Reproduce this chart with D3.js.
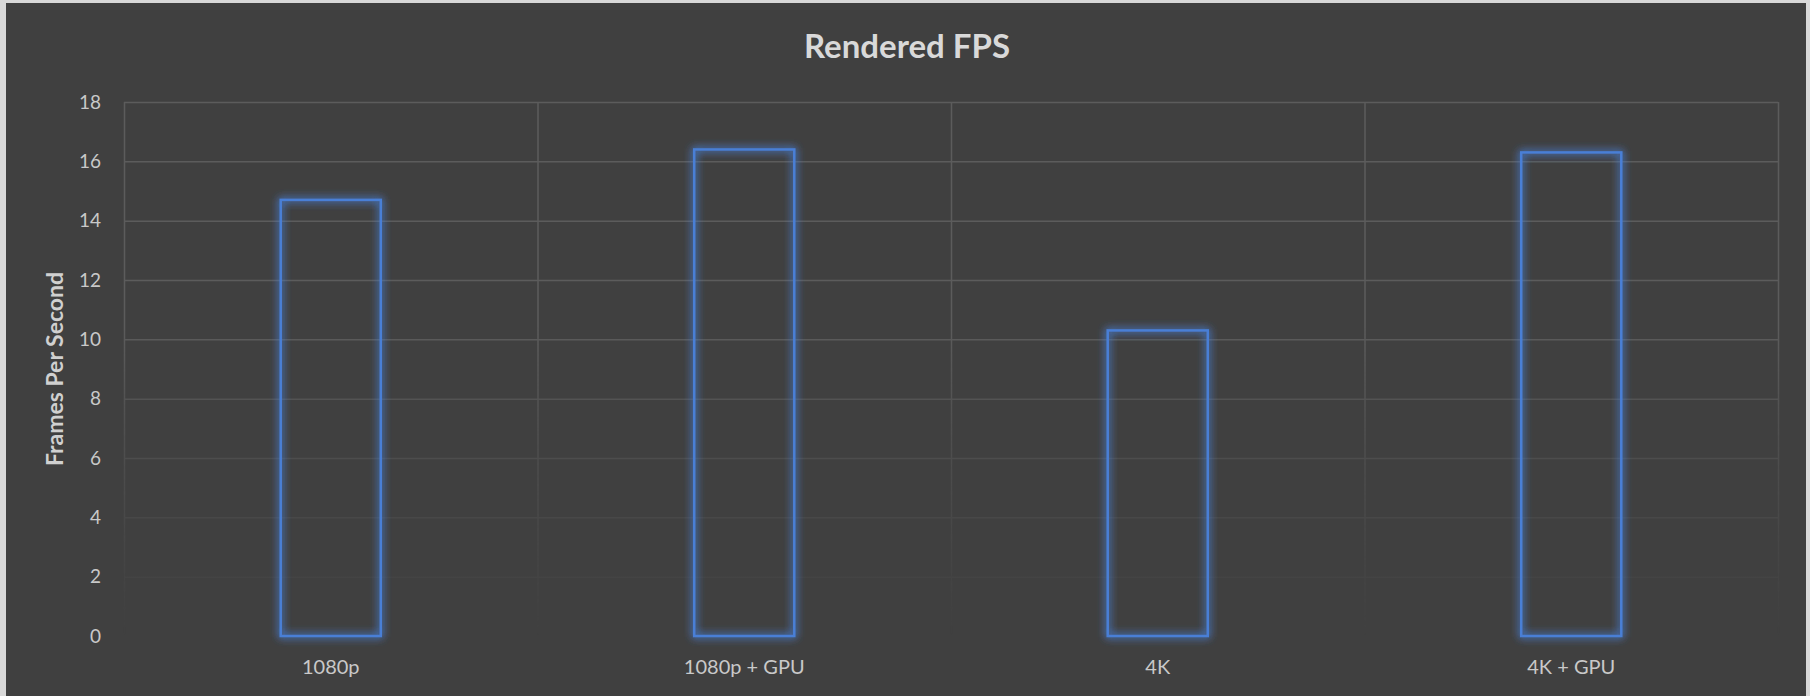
<!DOCTYPE html>
<html>
<head>
<meta charset="utf-8">
<script src="https://cdn.jsdelivr.net/npm/d3@7"></script>
<style>
  html, body { margin: 0; padding: 0; background: #d9d9d9; }
  svg { display: block; }
</style>
</head>
<body>
<script>
// Chart data
const categories = ['1080p', '1080p + GPU', '4K', '4K + GPU'];
const fps = [14.7, 16.4, 10.3, 16.3];
const yTicks = [0, 2, 4, 6, 8, 10, 12, 14, 16, 18];

const fullWidth = 1810;
const fullHeight = 696;
const margin = { top: 102, right: 32, bottom: 60, left: 124 };
const width = fullWidth - margin.left - margin.right;
const height = 636 - margin.top;

const svg = d3.select('body')
  .append('svg')
  .attr('width', fullWidth)
  .attr('height', fullHeight);

// Chart background
svg.append('rect')
  .attr('x', 6)
  .attr('y', 3)
  .attr('width', 1800)
  .attr('height', fullHeight - 3)
  .attr('fill', '#404040');

const defs = svg.append('defs');

// glow around bar outlines
const glow = defs.append('filter')
  .attr('id', 'glow')
  .attr('x', '-25%').attr('y', '-10%')
  .attr('width', '150%').attr('height', '120%');
glow.append('feGaussianBlur')
  .attr('in', 'SourceGraphic')
  .attr('stdDeviation', 4.5)
  .attr('result', 'blur');
glow.append('feComponentTransfer')
  .attr('in', 'blur')
  .attr('result', 'soft')
  .append('feFuncA')
  .attr('type', 'linear')
  .attr('slope', 1.8);
const merge = glow.append('feMerge');
merge.append('feMergeNode').attr('in', 'soft');
merge.append('feMergeNode').attr('in', 'SourceGraphic');

// gridlines fade toward the bottom
const grad = defs.append('linearGradient')
  .attr('id', 'fade')
  .attr('gradientUnits', 'userSpaceOnUse')
  .attr('x1', 0).attr('x2', 0)
  .attr('y1', 0).attr('y2', height);
grad.append('stop').attr('offset', 0.42).attr('stop-color', '#fff').attr('stop-opacity', 1);
grad.append('stop').attr('offset', 0.62).attr('stop-color', '#fff').attr('stop-opacity', 0.55);
grad.append('stop').attr('offset', 0.86).attr('stop-color', '#fff').attr('stop-opacity', 0.18);
grad.append('stop').attr('offset', 1).attr('stop-color', '#fff').attr('stop-opacity', 0);

defs.append('mask')
  .attr('id', 'grid-mask')
  .attr('maskUnits', 'userSpaceOnUse')
  .attr('x', -10).attr('y', -10)
  .attr('width', width + 20).attr('height', height + 20)
  .append('rect')
  .attr('x', -10).attr('y', -10)
  .attr('width', width + 20).attr('height', height + 20)
  .attr('fill', 'url(#fade)');

const x = d3.scaleBand()
  .domain(categories)
  .range([0, width])
  .padding(0);

const y = d3.scaleLinear()
  .domain([0, 18])
  .range([height, 0]);

const g = svg.append('g')
  .attr('transform', `translate(${margin.left}, ${margin.top})`);

// Title
svg.append('text')
  .attr('x', 907)
  .attr('y', 58)
  .attr('text-anchor', 'middle')
  .style('font-family', 'Lato, "Open Sans", sans-serif')
  .style('font-weight', 'bold')
  .style('font-size', '33px')
  .style('fill', '#d9d9d9')
  .text('Rendered FPS');

// Grid
const grid = g.append('g')
  .attr('mask', 'url(#grid-mask)');

grid.selectAll('line.h')
  .data(yTicks.filter(d => d > 0))
  .enter()
  .append('line')
  .attr('class', 'h')
  .attr('x1', 0)
  .attr('x2', width)
  .attr('y1', d => y(d) + 0.5)
  .attr('y2', d => y(d) + 0.5)
  .attr('stroke', '#5c5c5c')
  .attr('stroke-width', 1.5);

grid.selectAll('line.v')
  .data(d3.range(categories.length + 1))
  .enter()
  .append('line')
  .attr('class', 'v')
  .attr('x1', i => i * x.step() + 0.5)
  .attr('x2', i => i * x.step() + 0.5)
  .attr('y1', 0)
  .attr('y2', height)
  .attr('stroke', '#5c5c5c')
  .attr('stroke-width', 1.5);

// Y axis labels
const yAxis = g.append('g')
  .call(d3.axisLeft(y).tickValues(yTicks).tickSize(0).tickPadding(23));
yAxis.select('.domain').remove();
yAxis.selectAll('text')
  .style('font-family', 'Lato, "Open Sans", sans-serif')
  .style('font-size', '19px')
  .style('fill', '#c9c9c9');

// X axis labels
const xAxis = g.append('g')
  .attr('transform', `translate(0, ${height})`)
  .call(d3.axisBottom(x).tickSize(0).tickPadding(24));
xAxis.select('.domain').remove();
xAxis.selectAll('text')
  .style('font-family', 'Lato, "Open Sans", sans-serif')
  .style('font-size', '20px')
  .style('fill', '#c9c9c9');

// Y axis title
svg.append('text')
  .attr('transform', `translate(63, ${margin.top + height / 2}) rotate(-90)`)
  .attr('text-anchor', 'middle')
  .style('font-family', 'Lato, "Open Sans", sans-serif')
  .style('font-weight', 'bold')
  .style('font-size', '23px')
  .style('fill', '#d0d0d0')
  .text('Frames Per Second');

// Bars (outlined, with glow)
const barWidth = x.bandwidth() * 0.242;
g.selectAll('rect.bar')
  .data(fps)
  .enter()
  .append('rect')
  .attr('class', 'bar')
  .attr('x', (d, i) => x(categories[i]) + x.bandwidth() / 2 - barWidth / 2)
  .attr('y', d => y(d))
  .attr('width', barWidth)
  .attr('height', d => y(0) - y(d))
  .attr('fill', 'none')
  .attr('stroke', '#4a7fd6')
  .attr('stroke-width', 2.5)
  .attr('filter', 'url(#glow)');
</script>
</body>
</html>
